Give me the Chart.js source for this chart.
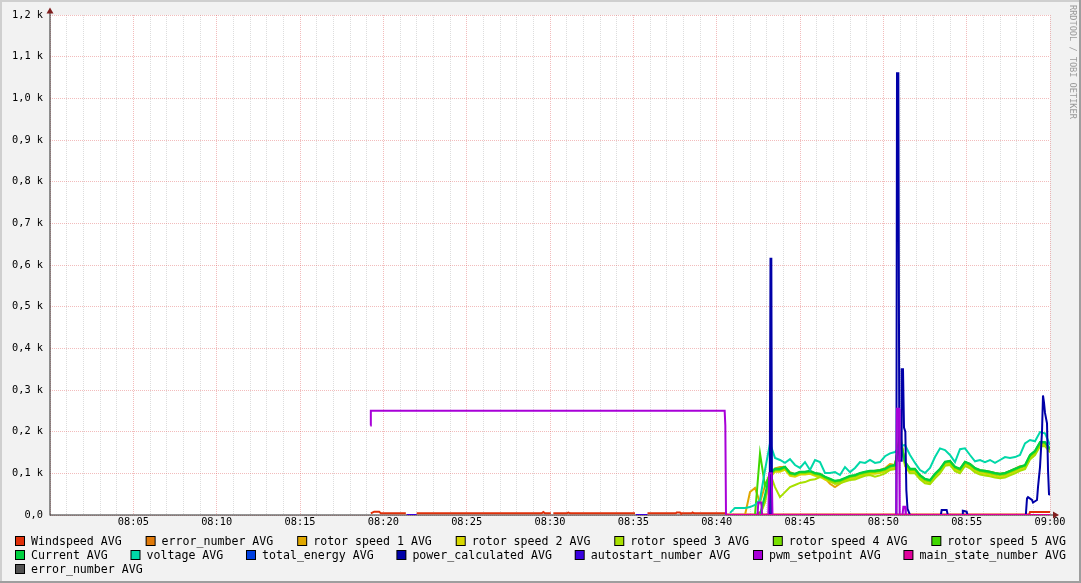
<!DOCTYPE html>
<html>
<head>
<meta charset="utf-8">
<script src="https://cdn.jsdelivr.net/npm/chart.js@4/dist/chart.umd.min.js"></script>
<style>
html,body{margin:0;padding:0;background:#f2f2f2;}
canvas{display:block;}
</style>
</head>
<body>
<canvas id="c" width="1081" height="583"></canvas>
<script>
// ---------- series names & colours ----------
const seriesNames = [
  "Windspeed AVG", "error_number AVG", "rotor speed 1 AVG", "rotor speed 2 AVG",
  "rotor speed 3 AVG", "rotor speed 4 AVG", "rotor speed 5 AVG",
  "Current AVG", "voltage AVG", "total_energy AVG", "power_calculated AVG",
  "autostart_number AVG", "pwm_setpoint AVG", "main_state_number AVG", "error_number AVG"
];
const seriesColors = [
  "#E0300A", "#E07A0A", "#E0A800", "#D8D800", "#A8E000", "#78E000", "#40D800",
  "#00D040", "#00D8A8", "#0040E0", "#0000A8", "#3A00E0", "#A800D8", "#E0009C", "#505050"
];

// ---------- axis tick labels ----------
const xTickLabels = ["08:05","08:10","08:15","08:20","08:25","08:30","08:35","08:40","08:45","08:50","08:55","09:00"];
const yTickLabels = ["0,0","0,1 k","0,2 k","0,3 k","0,4 k","0,5 k","0,6 k","0,7 k","0,8 k","0,9 k","1,0 k","1,1 k","1,2 k"];

// ---------- shared time grid (minutes after 08:00) ----------
const tGrid = [40.8,41.1,41.4,41.7,42.0,42.3,42.6,42.9,43.2,43.5,
  43.8,44.1,44.4,44.7,45.0,45.3,45.6,45.9,46.2,46.5,
  46.8,47.1,47.4,47.7,48.0,48.3,48.6,48.9,49.2,49.5,
  49.8,50.1,50.4,50.7,51.0,51.3,51.6,51.9,52.2,52.5,
  52.8,53.1,53.4,53.7,54.0,54.3,54.6,54.9,55.2,55.5,
  55.8,56.1,56.4,56.7,57.0,57.3,57.6,57.9,58.2,58.5,
  58.8,59.1,59.4,59.7,60.0];

const voltage = [5,17,17,17,19,24,36,108,172,137,
  132,125,134,120,113,127,108,132,127,101,
  101,103,96,115,103,113,127,125,132,125,
  127,141,148,151,165,168,144,125,108,101,
  113,139,160,156,144,127,158,160,144,129,
  132,127,132,125,132,139,137,139,144,172,
  180,177,199,196,168];

const rotor1 = [0,0,0,0,55,65,30,70,100,112,
  115,115,103,98,103,102,104,100,97,88,
  75,67,75,84,92,94,99,102,104,106,
  108,112,122,120,185,127,110,109,95,83,
  80,97,110,126,130,115,110,127,122,112,
  107,106,104,101,99,101,106,111,117,118,
  140,150,170,172,158];

const rotor2 = [0,0,0,0,0,0,0,35,90,104,
  104,109,94,92,97,97,99,94,92,85,
  80,75,77,82,87,89,94,97,99,99,
  101,104,111,113,180,121,104,104,89,80,
  77,92,104,121,123,109,104,121,116,106,
  101,99,97,94,92,94,99,104,109,113,
  137,147,168,168,152];

const rotor3 = [0,0,0,0,0,0,0,30,100,67,
  43,55,67,72,77,79,84,86,91,90,
  82,75,76,80,84,85,90,94,96,92,
  95,100,108,110,200,118,100,100,86,76,
  74,88,100,118,120,105,100,118,112,102,
  97,95,93,90,88,90,95,100,106,110,
  133,144,165,165,150];

const rotor4 = [0,0,0,0,0,0,0,40,95,108,
  108,113,98,96,101,101,103,98,96,89,
  84,79,81,86,91,93,98,101,103,103,
  105,108,115,117,187,125,108,108,93,84,
  81,96,108,125,127,113,108,125,120,110,
  105,103,101,98,96,98,103,108,113,117,
  141,151,172,172,156];

const rotor5 = [0,0,0,0,0,0,148,70,98,110,
  110,115,100,98,103,103,105,100,98,91,
  86,81,83,88,93,95,100,103,105,105,
  107,110,117,119,190,127,110,110,95,86,
  83,98,110,127,129,115,110,127,122,112,
  107,105,103,100,98,100,105,110,115,119,
  143,153,174,174,158];

const current = [0,0,0,0,0,0,0,48,100,111,
  111,116,101,99,104,104,106,101,99,92,
  87,82,84,89,94,96,101,104,106,106,
  108,111,118,120,170,128,111,111,96,87,
  84,99,111,128,130,116,111,128,123,113,
  108,106,104,101,99,101,106,111,116,120,
  144,154,175,175,159];

// ---------- spiky / sparse series as [minute, value] pairs ----------
const windspeedPairs = [[19.25,4],[19.45,8],[19.75,8],[19.85,4],[21.35,4],[21.4,null],[22.0,4],
  [29.5,4],[29.6,7],[29.7,4],[30.05,4],[30.1,null],[30.2,4],[31.0,4],[31.1,6],[31.2,4],
  [35.1,4],[35.15,null],[35.85,4],[37.55,4],[37.6,6],[37.8,6],[37.85,4],[38.5,4],[38.55,6],
  [38.65,4],[40.55,4],[40.6,1],[42.5,1],[42.55,6],[42.7,6],[42.75,1],[58.75,1],[58.8,7],[60,7]];
const errorNumberPairs = [[40.55,0],[60,0]];
const totalEnergyPairs = [[40.55,0],[60,0]];
const autostartPairs = [[21.4,0],[22.0,0],[22.01,null],[35.15,0],[35.85,0],[35.86,null],[40.55,0],[60,0]];
const mainStatePairs = [[40.55,0],[60,0]];
const errorNumber2Pairs = [];

const powerPairs = [[40.55,0],[43.16,0],[43.19,125],[43.23,615],[43.28,615],[43.32,0],
  [50.78,0],[50.82,1060],[50.9,1060],[50.96,130],[51.06,130],[51.1,350],[51.18,350],
  [51.24,210],[51.32,200],[51.38,60],[51.45,15],[51.55,5],[51.6,0],
  [53.45,0],[53.5,12],[53.8,12],[53.87,0],[54.72,0],[54.77,10],[55.0,8],[55.05,0],
  [58.55,0],[58.62,40],[58.68,43],[58.92,36],[58.98,30],[59.22,36],[59.28,67],[59.4,115],
  [59.52,200],[59.58,287],[59.64,270],[59.7,245],[59.82,220],[59.88,110],[59.94,50],[60,48]];

const pwmPairs = [[19.22,215],[19.25,250],[40.48,250],[40.52,215],[40.56,0],
  [42.45,0],[42.5,30],[42.68,30],[42.72,0],[43.1,0],[43.15,100],[43.3,100],[43.35,0],
  [50.78,0],[50.82,255],[50.94,255],[50.98,0],[51.15,0],[51.2,20],[51.3,20],[51.35,0],[60,0]];

const watermark = "RRDTOOL / TOBI OETIKER";

// ---------- build datasets ----------
function fromGrid(vals){ return vals.map((v,i)=>({x:tGrid[i], y:v})); }
function fromPairs(p){ return p.map(q=>({x:q[0], y:q[1]})); }
const seriesData = [
  fromPairs(windspeedPairs), fromPairs(errorNumberPairs),
  fromGrid(rotor1), fromGrid(rotor2), fromGrid(rotor3), fromGrid(rotor4), fromGrid(rotor5),
  fromGrid(current), fromGrid(voltage), fromPairs(totalEnergyPairs), fromPairs(powerPairs),
  fromPairs(autostartPairs), fromPairs(pwmPairs), fromPairs(mainStatePairs), fromPairs(errorNumber2Pairs)
];
const datasets = seriesNames.map((name,i)=>({
  label: name,
  data: seriesData[i],
  borderColor: seriesColors[i],
  backgroundColor: seriesColors[i],
  borderWidth: 2,
  pointRadius: 0,
  pointHoverRadius: 0,
  tension: 0,
  fill: false,
  spanGaps: false,
  order: seriesNames.length - i
}));

const MONO = '"DejaVu Sans Mono", monospace';
const legendRows = [[0,1,2,3,4,5,6],[7,8,9,10,11,12,13],[14]];
const legendRowY = [541, 555, 569];

const rrdPlugin = {
  id: 'rrd',
  beforeDraw(chart){
    const ctx = chart.ctx, a = chart.chartArea;
    ctx.save();
    ctx.fillStyle = '#f2f2f2'; ctx.fillRect(0,0,1081,583);
    ctx.fillStyle = '#ffffff'; ctx.fillRect(a.left, a.top, a.right-a.left, a.bottom-a.top);
    ctx.fillStyle = '#cfcfcf'; ctx.fillRect(0,0,1081,2); ctx.fillRect(0,0,2,583);
    ctx.fillStyle = '#9e9e9e'; ctx.fillRect(0,581,1081,2); ctx.fillRect(1079,0,2,583);
    ctx.restore();
  },
  beforeDatasetsDraw(chart){
    const ctx = chart.ctx, a = chart.chartArea;
    ctx.save();
    ctx.strokeStyle = '#2a2a2a'; ctx.lineWidth = 1;
    ctx.beginPath();
    ctx.moveTo(a.left, 12); ctx.lineTo(a.left, a.bottom + 0.5);
    ctx.moveTo(a.left, a.bottom); ctx.lineTo(a.right + 4, a.bottom);
    ctx.stroke();
    ctx.restore();
  },
  afterDraw(chart){
    const ctx = chart.ctx, a = chart.chartArea;
    ctx.save();
    // arrows
    ctx.fillStyle = '#801f1f';
    ctx.beginPath(); ctx.moveTo(a.left-3.5, 13.5); ctx.lineTo(a.left+3.5, 13.5); ctx.lineTo(a.left, 7.5); ctx.closePath(); ctx.fill();
    ctx.beginPath(); ctx.moveTo(a.right+3, a.bottom-3.5); ctx.lineTo(a.right+3, a.bottom+3.5); ctx.lineTo(a.right+9, a.bottom); ctx.closePath(); ctx.fill();
    // legend
    ctx.font = '11.6px ' + MONO;
    ctx.textBaseline = 'middle';
    const ds = chart.data.datasets;
    const L = 15, R = 1066, box = 10, gapText = 6;
    legendRows.forEach((row, ri) => {
      const ws = row.map(i => box + gapText + ctx.measureText(ds[i].label).width);
      const total = ws.reduce((s,w)=>s+w, 0);
      const gap = row.length > 1 ? (R - L - total) / (row.length - 1) : 0;
      let x = L;
      const y = legendRowY[ri];
      row.forEach((i,k) => {
        ctx.fillStyle = '#000'; ctx.fillRect(x, y-5, box, box);
        ctx.fillStyle = ds[i].borderColor; ctx.fillRect(x+1, y-4, box-2, box-2);
        ctx.fillStyle = '#000'; ctx.fillText(ds[i].label, x + box + gapText, y + 0.5);
        x += ws[k] + gap;
      });
    });
    // watermark
    ctx.translate(1072, 5);
    ctx.rotate(Math.PI/2);
    ctx.font = '8.6px ' + MONO;
    ctx.fillStyle = 'rgba(0,0,0,0.38)';
    ctx.textAlign = 'left';
    ctx.textBaseline = 'middle';
    ctx.fillText(watermark, 0, 0);
    ctx.restore();
  }
};

const minorGrid = 'rgba(143,143,143,0.3)';
const majorGrid = 'rgba(222,79,79,0.38)';

new Chart(document.getElementById('c'), {
  type: 'line',
  data: { datasets },
  options: {
    responsive: false,
    animation: false,
    devicePixelRatio: 1,
    events: [],
    layout: { padding: { left: 0, right: 31, top: 15, bottom: 0 } },
    plugins: { legend: { display: false }, tooltip: { enabled: false } },
    scales: {
      x: {
        type: 'linear', min: 0, max: 60,
        afterFit(s){ s.height = 68; },
        ticks: {
          stepSize: 1, maxTicksLimit: 61, autoSkip: false, maxRotation: 0, minRotation: 0,
          padding: 1, color: '#000', font: { family: MONO, size: 10.3 },
          callback: (v) => { const m = Math.round(v); return (m > 0 && m % 5 === 0) ? xTickLabels[m/5 - 1] : ''; }
        },
        grid: { drawTicks: false, lineWidth: 1, color: (c) => (c.tick && Math.round(c.tick.value) % 5 === 0) ? majorGrid : minorGrid },
        border: { display: false, dash: [1, 1] }
      },
      y: {
        min: 0, max: 1200,
        afterFit(s){ s.width = 50; },
        ticks: {
          stepSize: 100, padding: 7, color: '#000', font: { family: MONO, size: 10.3 },
          callback: (v) => yTickLabels[Math.round(v/100)]
        },
        grid: { drawTicks: false, lineWidth: 1, color: majorGrid },
        border: { display: false, dash: [1, 1] }
      }
    }
  },
  plugins: [rrdPlugin]
});
</script>
</body>
</html>
